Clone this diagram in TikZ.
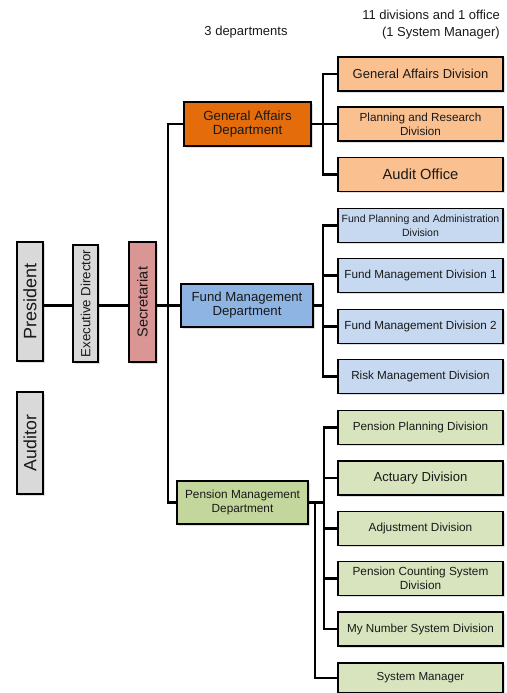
\documentclass[tikz,border=0pt]{standalone}
\usepackage{fontspec}
\setmainfont{Liberation Sans}
\usetikzlibrary{shadows}
\definecolor{orggrey}{HTML}{D9D9D9}
\definecolor{orgsec}{HTML}{DA9694}
\definecolor{gamain}{HTML}{E46C0A}
\definecolor{galight}{HTML}{FAC090}
\definecolor{fmmain}{HTML}{8EB4E3}
\definecolor{fmlight}{HTML}{C6D9F1}
\definecolor{pmmain}{HTML}{C3D69B}
\definecolor{pmlight}{HTML}{D7E4BD}

\begin{document}
\begin{tikzpicture}[x=1pt,y=-1pt,
    box/.style={draw=black, line width=1.5pt, align=center, inner sep=1pt, text=black!90,
                drop shadow={shadow xshift=1.5pt, shadow yshift=-1.5pt, opacity=0.25}},
    upright/.style={box, rotate=90, minimum height=26},
    dept/.style={box, minimum height=43},
    div/.style={box, minimum width=165, minimum height=34},
    link/.style={line width=2.3pt, black},
    head/.style={inner sep=0pt, text=black!90, font=\fontsize{13}{17}\selectfont}]
    \useasboundingbox (0,0) rectangle (506,693);

    % headings
    \node[head] (depthead) at (246,32) {3 departments};
    \node[head, anchor=east, align=right] (divhead) at (500,24.5) {11 divisions and 1 office\\(1 System Manager)};

    % left column
    \node[upright, fill=orggrey, minimum width=119, font=\fontsize{18}{20}\selectfont] (pres) at (30,301.5) {President};
    \node[upright, fill=orggrey, minimum width=117, minimum height=25, font=\fontsize{13.3}{15}\selectfont] (exec) at (85.5,303.5) {Executive Director};
    \node[upright, fill=orgsec, minimum width=120, minimum height=27, font=\fontsize{14.5}{16}\selectfont] (sec) at (142.5,302) {Secretariat};
    \node[upright, fill=orggrey, minimum width=102, font=\fontsize{17.7}{20}\selectfont] (aud) at (30,443) {Auditor};

    % departments
    \node[dept, fill=gamain, minimum width=127, minimum height=44, font=\fontsize{13.3}{14}\selectfont] (ga) at (247.5,124) {General Affairs\\Department};
    \node[dept, fill=fmmain, minimum width=132, font=\fontsize{13.2}{14}\selectfont] (fm) at (247,305.5) {Fund Management\\Department};
    \node[dept, fill=pmmain, minimum width=131, font=\fontsize{11.8}{14}\selectfont] (pm) at (242.5,502.5) {Pension Management\\Department};

    % divisions
    \foreach \n/\y/\s/\t in {gad1/74/13/{General Affairs Division},
                             gad2/124/11.7/{Planning and Research\\Division},
                             gad3/174.5/14.7/{Audit Office}} {
        \node[div, fill=galight, font=\fontsize{\s}{14}\selectfont] (\n) at (420.5,\y) {\t};
        \draw[link] (ga.east) -- ++(11,0) |- (\n.west);
    }
    \foreach \n/\y/\s/\t in {fmd1/225.5/10.5/{Fund Planning and Administration\\Division},
                             fmd2/275.5/11.7/{Fund Management Division 1},
                             fmd3/326.5/11.7/{Fund Management Division 2},
                             fmd4/376.5/11.7/{Risk Management Division}} {
        \node[div, fill=fmlight, font=\fontsize{\s}{14}\selectfont] (\n) at (420.5,\y) {\t};
        \draw[link] (fm.east) -- ++(9,0) |- (\n.west);
    }
    \foreach \n/\y/\s/\t in {pmd1/427.5/11.7/{Pension Planning Division},
                             pmd2/478/13.1/{Actuary Division},
                             pmd3/528.5/11.8/{Adjustment Division},
                             pmd4/578.5/11.8/{Pension Counting System\\Division},
                             pmd5/629/11.7/{My Number System Division}} {
        \node[div, fill=pmlight, font=\fontsize{\s}{14}\selectfont] (\n) at (420.5,\y) {\t};
        \draw[link] (pm.east) -- ++(15,0) |- (\n.west);
    }
    \node[div, fill=pmlight, minimum height=30, font=\fontsize{11.6}{14}\selectfont] (sysman) at (420.5,678) {System Manager};
    \draw[link] (pm.east) -- ++(6,0) |- (sysman.west);

    % trunk
    \draw[link] (ga.west) -- ++(-15,0) |- (pm.west);
    \draw[link] (pres.south |- fm.west) -- (exec.north |- fm.west);
    \draw[link] (exec.south |- fm.west) -- (sec.north |- fm.west);
    \draw[link] (sec.south |- fm.west) -- (fm.west);
\end{tikzpicture}
\end{document}
